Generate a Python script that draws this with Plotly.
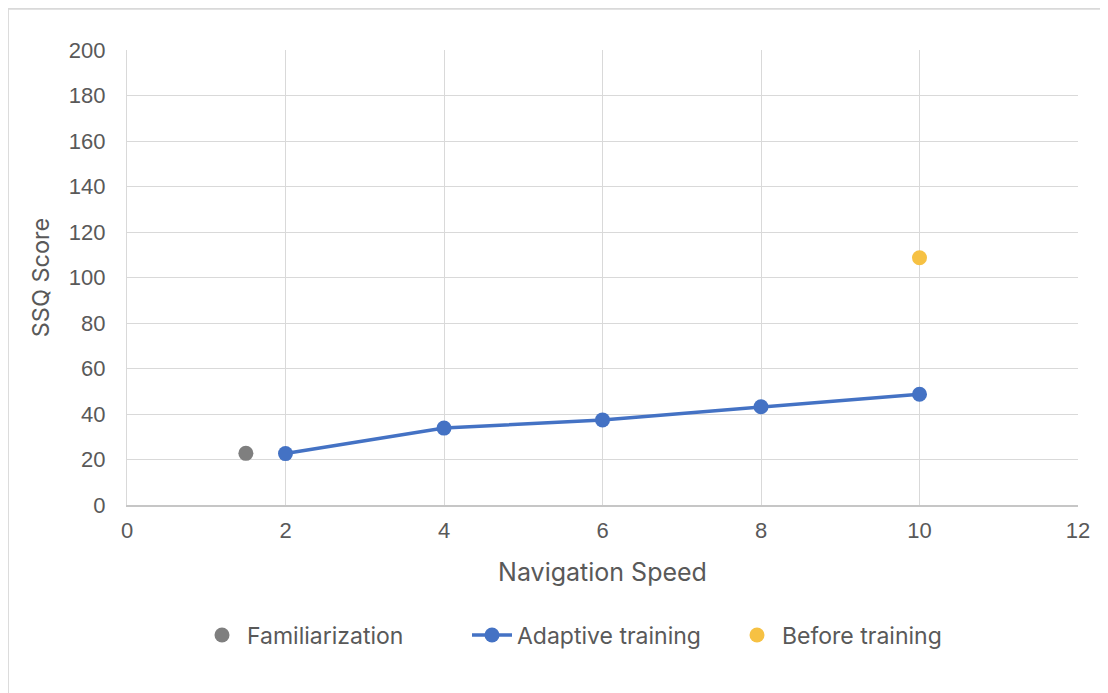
import plotly.graph_objects as go

fam_x = [1.5]
fam_y = [22.7]
adapt_x = [2, 4, 6, 8, 10]
adapt_y = [22.6, 33.8, 37.4, 43.2, 48.7]
before_x = [10]
before_y = [108.7]

x_ticks = [0, 2, 4, 6, 8, 10, 12]
y_ticks = [0, 20, 40, 60, 80, 100, 120, 140, 160, 180, 200]

fig = go.Figure()
fig.add_trace(go.Scatter(x=fam_x, y=fam_y, mode="markers", name="Familiarization",
                         marker=dict(color="#7f7f7f", size=15), legend="legend"))
fig.add_trace(go.Scatter(x=adapt_x, y=adapt_y, mode="lines+markers", name="Adaptive training",
                         line=dict(color="#4472c4", width=3.5),
                         marker=dict(color="#4472c4", size=15), legend="legend2"))
fig.add_trace(go.Scatter(x=before_x, y=before_y, mode="markers", name="Before training",
                         marker=dict(color="#f6c143", size=15), legend="legend3"))

tickfont = dict(family="Liberation Sans, Arial, sans-serif", size=22, color="#595959")
xtitlefont = dict(family="Inter, Noto Sans, sans-serif", size=25, color="#595959")
ytitlefont = dict(family="Inter, Noto Sans, sans-serif", size=23.5, color="#595959")
legfont = dict(family="Inter, Noto Sans, sans-serif", size=23, color="#595959")

# page body has 8px offset; plot area target: x 127..1078, y 50..505 in screenshot
L, T = 127 - 8, 50 - 8
PW, PH = 951, 455
W, H = 1108, 693


def px2x(px):
    return (px - 127) / PW


legy = (505 - 635) / PH


def leg(xpx):
    return dict(orientation="h", x=px2x(xpx), xanchor="left", y=legy, yanchor="middle",
                font=legfont, itemwidth=40, bgcolor="rgba(0,0,0,0)", borderwidth=0)


fig.update_layout(
    width=W, height=H,
    margin=dict(l=L, r=W - L - PW, t=T, b=H - T - PH),
    paper_bgcolor="white", plot_bgcolor="white",
    showlegend=True,
    legend=leg(197),
    legend2=leg(467),
    legend3=leg(732),
    xaxis=dict(range=[0, 12], tickvals=x_ticks, showgrid=True, gridcolor="#d9d9d9", gridwidth=1.3,
               showline=True, linecolor="#c6c6c6", linewidth=1.5, mirror=False, zeroline=False,
               tickfont=tickfont, ticks="", ticklabelstandoff=5,
               title=dict(text="Navigation Speed", font=xtitlefont, standoff=21)),
    yaxis=dict(range=[0, 200], tickvals=y_ticks, showgrid=True, gridcolor="#d9d9d9", gridwidth=1.3,
               showline=True, linecolor="#d9d9d9", linewidth=1.3, mirror=False, zeroline=False,
               tickfont=tickfont, ticks="", ticklabelstandoff=16,
               title=dict(text="SSQ Score", font=ytitlefont, standoff=12)),
    shapes=[dict(type="rect", xref="paper", yref="paper",
                 x0=(8 - 127) / PW, x1=(1115 - 127) / PW,
                 y0=(505 - 700) / PH, y1=(505 - 8.8) / PH,
                 line=dict(color="#d9d9d9", width=1.8), fillcolor="rgba(0,0,0,0)", layer="below")],
)

fig.write_html("out.html")
